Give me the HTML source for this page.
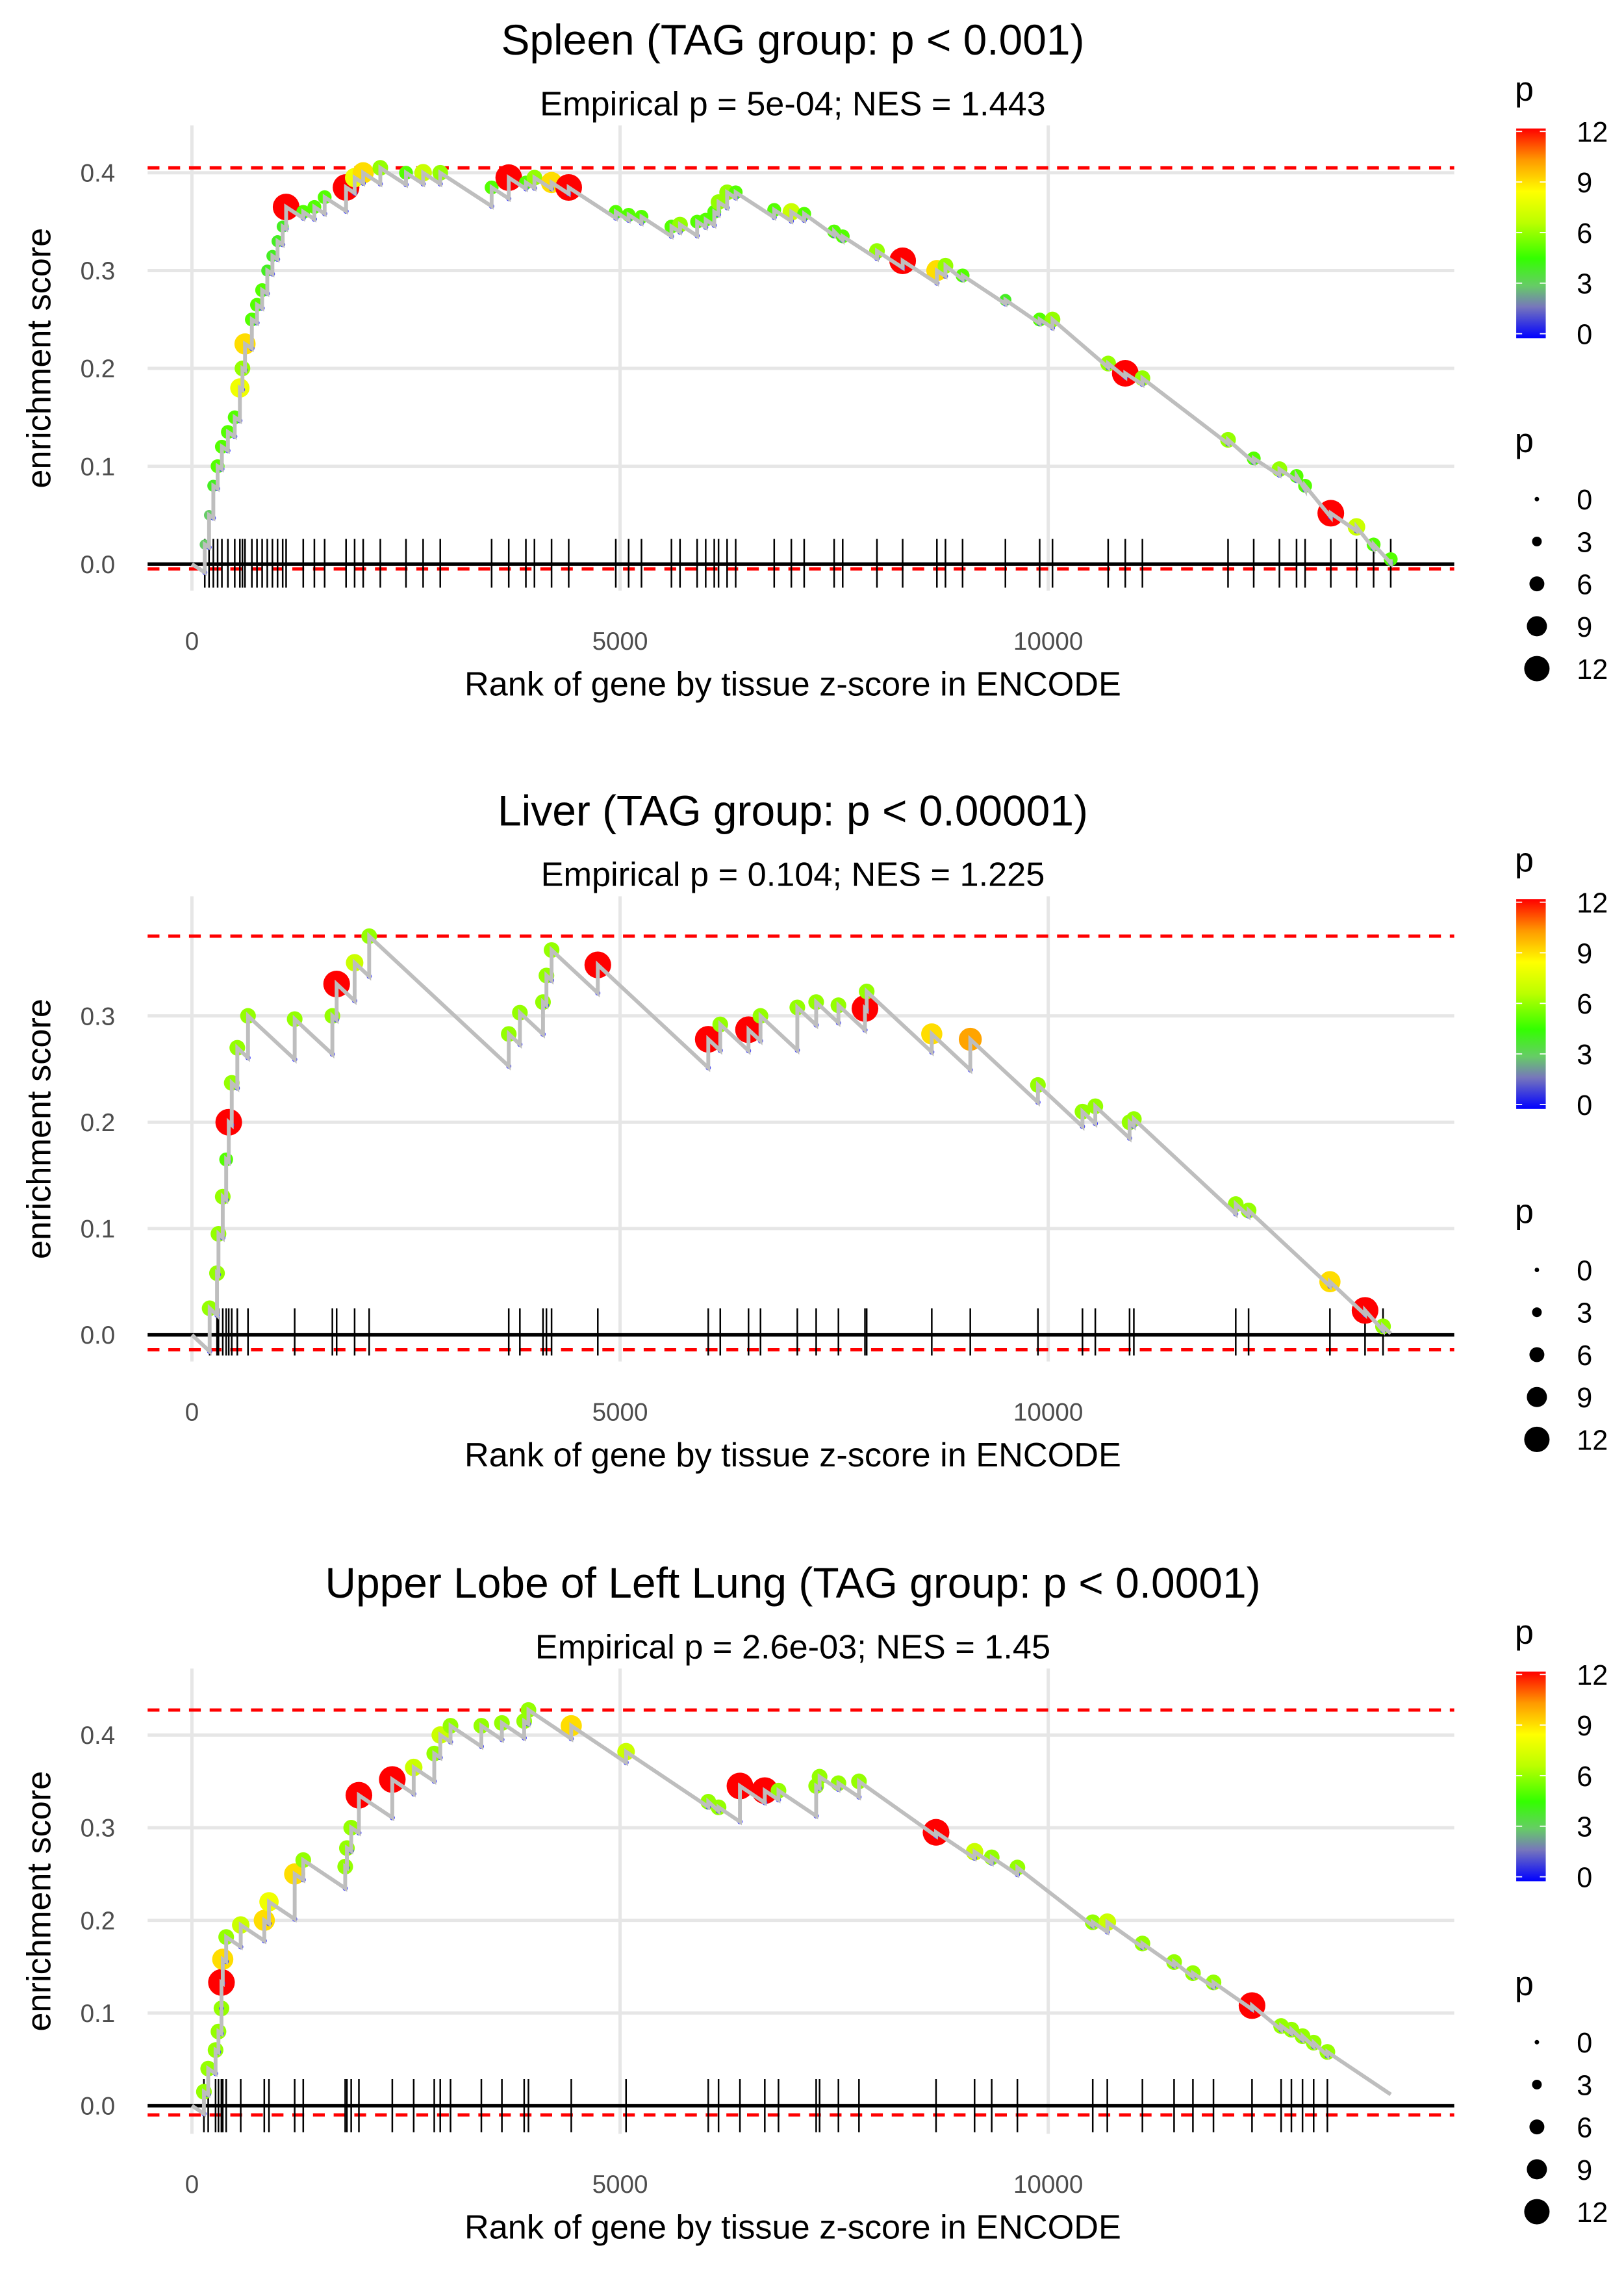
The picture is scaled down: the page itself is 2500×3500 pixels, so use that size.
<!DOCTYPE html>
<html><head><meta charset="utf-8"><style>
html,body{margin:0;padding:0;background:#fff;}
svg{display:block;font-family:"Liberation Sans",sans-serif;}
</style></head><body>
<svg id="chart" width="2500" height="3500" viewBox="0 0 1100 1540" preserveAspectRatio="none" xmlns="http://www.w3.org/2000/svg">
<defs>
<linearGradient id="pgrad" x1="0" y1="1" x2="0" y2="0">
<stop offset="0" stop-color="#0000ff"/><stop offset="0.15" stop-color="#7777bb"/><stop offset="0.25" stop-color="#66cc66"/><stop offset="0.38" stop-color="#33ff00"/><stop offset="0.55" stop-color="#bbff00"/><stop offset="0.7" stop-color="#ffff00"/><stop offset="0.85" stop-color="#ff9900"/><stop offset="1" stop-color="#ff0000"/>
</linearGradient>
</defs>
</svg>
<script>
// ---- data ----
const spleenRanks=[150,200,250,300,350,420,500,560,590,620,700,760,820,880,940,1000,1060,1100,1300,1430,1550,1800,1900,2000,2200,2500,2700,2900,3500,3700,3900,4000,4200,4400,4950,5100,5250,5600,5700,5900,6000,6100,6150,6250,6350,6800,7000,7150,7500,7600,8000,8300,8700,8800,9000,9500,9900,10050,10700,10900,11100,12100,12400,12700,12900,13000,13300,13600,13800,14000];
const spleenES=[0.02,0.05,0.08,0.10,0.12,0.135,0.15,0.18,0.2,0.225,0.25,0.265,0.28,0.30,0.315,0.33,0.345,0.365,0.36,0.365,0.375,0.385,0.395,0.40,0.405,0.40,0.40,0.40,0.385,0.395,0.39,0.395,0.39,0.385,0.36,0.357,0.355,0.345,0.347,0.35,0.352,0.36,0.37,0.38,0.38,0.362,0.36,0.358,0.34,0.335,0.32,0.31,0.30,0.305,0.295,0.27,0.25,0.25,0.205,0.195,0.19,0.127,0.108,0.097,0.09,0.08,0.052,0.038,0.02,0.005];
const spleenP=[3,3,4,5,5,5,5,8,6,9,5,5,5,4,4,4,4,12,5,5,5,12,8,9,6,5,7,6,5,12,5,6,9,12,5,5,5,5,6,5,5,5,6,6,5,5,7,5,5,5,6,12,9,6,5,4,5,6,6,12,6,6,5,6,5,5,12,7,5,5];
const liverRanks=[207,293,310,360,400,430,465,530,655,1200,1640,1690,1900,2070,3700,3830,4100,4140,4200,4740,6030,6170,6500,6640,7070,7290,7550,7860,7880,8640,9090,9880,10400,10550,10950,11000,12190,12340,13290,13700,13910];
const liverES=[0.025,0.058,0.095,0.13,0.165,0.20,0.237,0.27,0.30,0.297,0.30,0.33,0.35,0.375,0.283,0.303,0.313,0.338,0.362,0.348,0.278,0.292,0.287,0.30,0.308,0.313,0.31,0.307,0.323,0.283,0.278,0.235,0.21,0.215,0.2,0.203,0.123,0.117,0.05,0.023,0.008];
const liverP=[6,6,6,6,5,12,6,6,6,6,6,12,7,6,6,6,6,6,6,12,12,6,12,6,6,6,6,12,6,9,10,6,6,6,6,6,6,6,9,12,6];
const lungRanks=[140,190,276,310,345,345,360,400,570,845,900,1200,1300,1790,1810,1860,1950,2340,2590,2830,2900,3020,3380,3620,3880,3930,4430,5070,6030,6150,6400,6690,6850,7290,7330,7550,7790,8690,9140,9340,9640,10520,10690,11100,11470,11690,11930,12380,12720,12840,12970,13100,13260];
const lungES=[0.015,0.04,0.06,0.08,0.105,0.133,0.158,0.182,0.195,0.20,0.22,0.25,0.265,0.258,0.278,0.30,0.335,0.352,0.365,0.38,0.40,0.41,0.41,0.413,0.415,0.427,0.41,0.382,0.328,0.322,0.345,0.34,0.34,0.345,0.355,0.348,0.35,0.295,0.274,0.268,0.257,0.198,0.198,0.175,0.155,0.143,0.133,0.108,0.086,0.082,0.075,0.068,0.058];
const lungP=[6,6,6,6,6,12,9,6,7,9,8,9,6,6,6,6,12,12,7,6,7,6,6,6,6,6,9,7,6,6,12,12,6,6,6,6,6,12,7,6,6,6,7,6,6,6,6,12,6,6,6,6,6];
const xTicks=[0,5000,10000];
const colorTicks=[0,3,6,9,12];
const sizeTicks=[0,3,6,9,12];

const svg=document.getElementById('chart');
const NS='http://www.w3.org/2000/svg';
function mk(tag,attrs,parent){const e=document.createElementNS(NS,tag);for(const k in attrs)e.setAttribute(k,attrs[k]);(parent||svg).appendChild(e);return e;}
function txt(s,attrs,parent){const e=mk('text',attrs,parent);e.textContent=s;return e;}
function lerp(a,b,t){return a+(b-a)*t;}
const cstops=[[0,[0,0,255]],[1.8,[119,119,187]],[3,[102,204,102]],[4.5,[51,255,0]],[6.6,[187,255,0]],[8.4,[255,255,0]],[10.2,[255,153,0]],[12,[255,0,0]]];
function pcol(p){for(let i=1;i<cstops.length;i++){if(p<=cstops[i][0]){const a=cstops[i-1],b=cstops[i];const t=(p-a[0])/(b[0]-a[0]);return 'rgb('+a[1].map((v,j)=>Math.round(lerp(v,b[1][j],t))).join(',')+')';}}return 'rgb(255,0,0)';}
function psize(p){return 1.6+0.62*p;}

function panel(cfg){
  const g=mk('g',{});
  
  
  const xs=r=>130+r*0.058;
  const ys=v=>cfg.y0-v*cfg.k;
  const L=100,R=985;
  cfg.yTicks.forEach(v=>{const l=mk('line',{x1:L,x2:R,y1:ys(v),y2:ys(v),stroke:'#e6e6e6','stroke-width':2.2},g);});
  xTicks.forEach(v=>{const l=mk('line',{x1:xs(v),x2:xs(v),y1:cfg.top,y2:cfg.bot,stroke:'#e6e6e6','stroke-width':2.2},g);});
  const maxES=Math.max(...cfg.es);
  [maxES,cfg.minES].forEach(v=>{const l=mk('line',{x1:L,x2:R,y1:ys(v),y2:ys(v),stroke:'#ff0000','stroke-width':2.2,'stroke-dasharray':'8,6'},g);});
  const z=mk('line',{x1:L,x2:R,y1:ys(0),y2:ys(0),stroke:'#000','stroke-width':2.4},g);
  
  cfg.ranks.forEach(r=>{const l=mk('line',{x1:xs(r),x2:xs(r),y1:cfg.rugTop,y2:cfg.rugBot,stroke:'#000','stroke-width':1.1},g);});
  cfg.ranks.forEach((r,i)=>{const c=mk('circle',{cx:xs(r),cy:ys(cfg.es[i]),r:psize(cfg.p[i]),fill:pcol(cfg.p[i])},g);});
  let pts=[[0,0]];let prev=0,prevR=0;const pre=[];
  cfg.ranks.forEach((r,i)=>{let pv=prev-cfg.slope*(r-prevR);if(pv>cfg.es[i]-0.004)pv=cfg.es[i]-0.004;pts.push([r,pv]);pre.push([r,pv]);pts.push([r,cfg.es[i]]);prev=cfg.es[i];prevR=r;});
  if(prevR<14000)pts.push([14000,Math.max(0,prev-cfg.slope*(14000-prevR))]);
  pre.forEach(q=>{const c=mk('circle',{cx:xs(q[0]),cy:ys(q[1]),r:1.4,fill:'none',stroke:'#3333ff','stroke-width':0.7},g);});
  const pl=mk('polyline',{points:pts.map(q=>xs(q[0])+','+ys(q[1])).join(' '),fill:'none',stroke:'#bebebe','stroke-width':2.6},g);
  
  cfg.yTicks.forEach(v=>{const t=txt(v.toFixed(1),{x:78,y:ys(v)+6,'text-anchor':'end','font-size':17,fill:'#4d4d4d'},g);});
  xTicks.forEach(v=>{const t=txt(String(v),{x:xs(v),y:cfg.bot+40,'text-anchor':'middle','font-size':17,fill:'#4d4d4d'},g);});
  const xt=txt('Rank of gene by tissue z-score in ENCODE',{x:537,y:cfg.off+471,'text-anchor':'middle','font-size':23,fill:'#000'},g);
  
  const yt=txt('enrichment score',{x:0,y:0,'text-anchor':'middle','font-size':23,fill:'#000',transform:'translate(34,'+((cfg.top+cfg.bot)/2)+') rotate(-90)'},g);
  
  const ti=txt(cfg.title,{x:537,y:cfg.off+37,'text-anchor':'middle','font-size':29,fill:'#000'},g);
  
  const st=txt(cfg.sub,{x:537,y:cfg.off+78,'text-anchor':'middle','font-size':23,fill:'#000'},g);
  
  const o=cfg.off;
  const lt=txt('p',{x:1026,y:o+68,'font-size':23},g);
  const cb=mk('rect',{x:1027,y:o+87,width:20,height:142,fill:'url(#pgrad)'},g);
  colorTicks.forEach(v=>{const yy=o+226-v*(137/12);
    mk('line',{x1:1027,x2:1031,y1:yy,y2:yy,stroke:'#fff','stroke-width':0.8},g);mk('line',{x1:1043,x2:1047,y1:yy,y2:yy,stroke:'#fff','stroke-width':0.8},g);
    const t=txt(String(v),{x:1068,y:yy+7,'font-size':19},g);});
  const st2=txt('p',{x:1026,y:o+306,'font-size':23},g);
  sizeTicks.forEach((v,i)=>{const yy=o+338+i*28.7;
    const c=mk('circle',{cx:1041,cy:yy,r:psize(v)*0.95,fill:'#000'},g);
    const t=txt(String(v),{x:1068,y:yy+7,'font-size':19},g);});
}
panel({name:'spleen-panel',off:0,y0:382,k:662.5,top:85,bot:400,rugTop:365,rugBot:398,minES:-0.005,slope:5.7e-5,yTicks:[0,0.1,0.2,0.3,0.4],ranks:spleenRanks,es:spleenES,p:spleenP,title:'Spleen (TAG group: p < 0.001)',sub:'Empirical p = 5e-04; NES = 1.443'});
panel({name:'liver-panel',off:522,y0:904,k:720,top:607,bot:922,rugTop:886,rugBot:918,minES:-0.014,slope:7.5e-5,yTicks:[0,0.1,0.2,0.3],ranks:liverRanks,es:liverES,p:liverP,title:'Liver (TAG group: p < 0.00001)',sub:'Empirical p = 0.104; NES = 1.225'});
panel({name:'lung-panel',off:1045,y0:1426,k:627.5,top:1130,bot:1445,rugTop:1408,rugBot:1444,minES:-0.01,slope:6.2e-5,yTicks:[0,0.1,0.2,0.3,0.4],ranks:lungRanks,es:lungES,p:lungP,title:'Upper Lobe of Left Lung (TAG group: p < 0.0001)',sub:'Empirical p = 2.6e-03; NES = 1.45'});
</script>
</body></html>
